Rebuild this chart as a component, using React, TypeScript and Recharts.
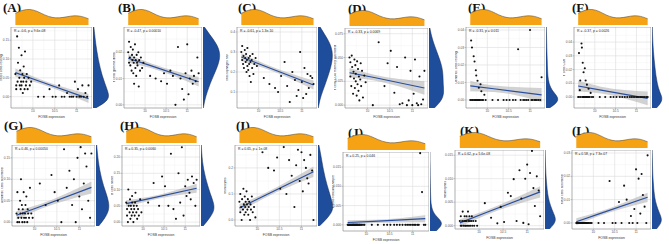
import React from 'react';
import { ComposedChart, AreaChart, Area, Line, Scatter, XAxis, YAxis, CartesianGrid, ReferenceArea } from 'recharts';

// shared FOSB expression (x) for all samples
const FOSB = [
  9.60, 9.62, 9.62, 9.64, 9.65, 9.66, 9.68, 9.69, 9.70, 9.71, 9.72, 9.73, 9.74, 9.74,
  9.76, 9.77, 9.78, 9.79, 9.80, 9.81, 9.82, 9.84, 9.85, 9.86, 9.88, 9.90, 9.93, 9.96,
  10.12, 10.25, 10.38, 10.45, 10.52, 10.60, 10.66, 10.72, 10.78, 10.84, 10.88, 10.92,
  10.96, 11.00, 11.03, 11.06, 11.10, 11.13, 11.16, 11.20, 11.24, 11.27,
];
const X_DOMAIN = [9.5, 11.35];
const X_TICKS = [10, 10.5, 11];
const X_MINOR = [9.75, 10.25, 10.75, 11.25];
const FIT_X = [9.6, 10.15, 11.27];

// marginal density of FOSB (top, orange)
const ORANGE_X = [9.60, 9.77, 9.93, 10.10, 10.27, 10.44, 10.60, 10.77, 10.94, 11.10, 11.27];
const ORANGE_D = [0.72, 0.92, 0.98, 0.85, 0.6, 0.45, 0.42, 0.5, 0.58, 0.55, 0.38];

// cell fractions (y)
const mastRestingY = [0.06,0.02,0.03,0.16,0.04,0.09,0.13,0.05,0.03,0.07,0.02,0.04,0.11,0.03,0.06,0.01,0.04,0.08,0.05,0.02,0.12,0.03,0.04,0.06,0.02,0.05,0.03,0.04,
  0.00,0.00,0.02,0.00,0.00,0.03,0.00,0.00,0.01,0.00,0.00,0.00,0.04,0.00,0.02,0.00,0.00,0.03,0.00,0.01,0.00,0.03];
const gammaDeltaY = [0.020,0.016,0.024,0.018,0.015,0.022,0.013,0.019,0.017,0.021,0.012,0.016,0.018,0.008,0.023,0.014,0.017,0.011,0.019,0.016,0.015,0.020,0.007,0.017,0.013,0.018,0.014,0.016,
  0.011,0.010,0.009,0.012,0.008,0.013,0.011,0.000,0.022,0.010,0.006,0.002,0.012,0.023,0.004,0.010,0.013,0.008,0.011,0.009,0.018,0.012];
const macroM0Y = [0.30,0.26,0.33,0.24,0.28,0.22,0.31,0.27,0.25,0.29,0.20,0.26,0.23,0.32,0.21,0.27,0.24,0.18,0.28,0.25,0.15,0.26,0.22,0.29,0.19,0.24,0.27,0.23,
  0.17,0.14,0.12,0.10,0.18,0.25,0.13,0.05,0.20,0.16,0.08,0.11,0.30,0.15,0.07,0.22,0.09,0.19,0.12,0.18,0.17,0.14];
const cd4ActY = [0.050,0.045,0.030,0.020,0.052,0.040,0.012,0.035,0.028,0.048,0.018,0.042,0.025,0.033,0.010,0.046,0.022,0.038,0.015,0.030,0.005,0.027,0.044,0.020,0.036,0.008,0.031,0.024,
  0.000,0.066,0.020,0.044,0.057,0.013,0.040,0.001,0.002,0.050,0.000,0.005,0.036,0.000,0.012,0.048,0.002,0.000,0.030,0.001,0.006,0.036];
const dcRestingY = [0.000,0.034,0.000,0.030,0.000,0.000,0.025,0.000,0.022,0.000,0.000,0.017,0.000,0.014,0.000,0.011,0.000,0.000,0.007,0.000,0.000,0.009,0.000,0.005,0.000,0.000,0.003,0.000,
  0.000,0.000,0.000,0.000,0.000,0.000,0.000,0.029,0.000,0.000,0.000,0.000,0.000,0.040,0.000,0.000,0.000,0.000,0.000,0.000,0.000,0.013];
const cd8Y = [0.000,0.032,0.000,0.005,0.012,0.000,0.039,0.036,0.000,0.025,0.000,0.018,0.000,0.000,0.021,0.000,0.012,0.000,0.000,0.009,0.000,0.000,0.006,0.000,0.000,0.003,0.000,0.000,
  0.000,0.000,0.000,0.000,0.000,0.000,0.000,0.000,0.000,0.000,0.000,0.000,0.000,0.000,0.000,0.000,0.000,0.000,0.000,0.000,0.000,0.000];
const dcActY = [0.02,0.00,0.07,0.01,0.03,0.00,0.05,0.02,0.10,0.01,0.04,0.00,0.03,0.02,0.07,0.01,0.00,0.02,0.04,0.01,0.06,0.00,0.03,0.02,0.01,0.08,0.02,0.01,
  0.09,0.04,0.11,0.07,0.05,0.00,0.17,0.08,0.12,0.04,0.10,0.00,0.15,0.06,0.175,0.03,0.09,0.16,0.13,0.05,0.01,0.16];
const bNaiveY = [0.06,0.02,0.04,0.00,0.10,0.05,0.03,0.07,0.01,0.05,0.04,0.02,0.08,0.06,0.03,0.00,0.05,0.04,0.02,0.06,0.09,0.03,0.05,0.01,0.04,0.02,0.07,0.03,
  0.06,0.12,0.05,0.14,0.11,0.05,0.21,0.04,0.01,0.15,0.06,0.23,0.02,0.11,0.08,0.13,0.09,0.07,0.14,0.12,0.05,0.13];
const monoY = [0.07,0.03,0.10,0.05,0.00,0.08,0.04,0.12,0.06,0.02,0.09,0.05,0.07,0.03,0.11,0.06,0.04,0.08,0.02,0.05,0.07,0.00,0.06,0.04,0.09,0.03,0.05,0.01,
  0.26,0.20,0.19,0.24,0.12,0.28,0.10,0.23,0.17,0.05,0.21,0.27,0.15,0.26,0.11,0.23,0.20,0.16,0.14,0.25,0.19,0.00];
const tfhY = [0,0,0,0,0,0,0,0,0,0,0,0,0,0,0,0,0,0,0,0,0,0,0,0,0,0,0,0,
  0,0,0,0,0,0,0,0,0,0,0,0,0,0,0,0,0,0,0.0186,0.0085,0,0];
const neutroY = [0.001,0.000,0.002,0.000,0.001,0.003,0.000,0.001,0.002,0.000,0.001,0.000,0.002,0.001,0.000,0.003,0.001,0.000,0.002,0.001,0.000,0.001,0.002,0.000,0.001,0.000,0.001,0.000,
  0.0048,0.0017,0.0005,0.0040,0.0008,0.0070,0.0063,0.0099,0.0010,0.0118,0.0058,0.0006,0.0100,0.0130,0.0003,0.0112,0.0159,0.0080,0.0042,0.0105,0.0075,0.0020];
const mastActY = [0,0,0,0,0,0,0,0,0,0,0,0,0,0,0,0,0,0,0,0,0,0,0,0,0,0,0,0,
  0.000,0.000,0.018,0.000,0.000,0.009,0.000,0.016,0.010,0.000,0.003,0.000,0.006,0.023,0.000,0.019,0.004,0.021,0.012,0.007,0.000,0.029];

// regression fit at FIT_X and half width of the 95% band
const fitA = [0.064, 0.041, -0.005]; const bandA = [0.011, 0.006, 0.012];
const fitB = [0.0177, 0.0148, 0.0088]; const bandB = [0.0016, 0.0009, 0.0018];
const fitC = [0.275, 0.229, 0.135]; const bandC = [0.02, 0.011, 0.022];
const fitD = [0.034, 0.029, 0.018]; const bandD = [0.005, 0.003, 0.007];
const fitE = [0.008, 0.0064, 0.0029]; const bandE = [0.003, 0.0018, 0.004];
const fitF = [0.008, 0.005, -0.001]; const bandF = [0.004, 0.0025, 0.005];
const fitG = [0.016, 0.037, 0.081]; const bandG = [0.01, 0.006, 0.014];
const fitH = [0.057, 0.072, 0.104]; const bandH = [0.01, 0.006, 0.014];
const fitI = [0.046, 0.092, 0.185]; const bandI = [0.015, 0.009, 0.02];
const fitJ = [0.0006, 0.0009, 0.0016]; const bandJ = [0.0006, 0.0004, 0.0009];
const fitK = [0.0006, 0.0028, 0.0072]; const bandK = [0.0008, 0.0005, 0.0012];
const fitL = [0.0005, 0.0040, 0.011]; const bandL = [0.0015, 0.0009, 0.002];

// right marginal densities (top -> bottom)
const densA = [0.05,0.1,0.15,0.22,0.3,0.4,0.52,0.68,0.85,0.95,0.15];
const densB = [0.08,0.4,0.75,0.95,0.95,0.8,0.6,0.4,0.24,0.1,0.02];
const densC = [0.12,0.4,0.68,0.82,0.82,0.72,0.58,0.42,0.25,0.1,0.02];
const densD = [0.05,0.14,0.28,0.45,0.62,0.75,0.8,0.8,0.85,0.75,0.3];
const densE = [0.02,0.03,0.04,0.05,0.07,0.08,0.1,0.16,0.38,0.85,0.2];
const densF = [0.02,0.03,0.05,0.08,0.12,0.17,0.22,0.3,0.42,0.66,0.25];
const densG = [0.04,0.08,0.13,0.2,0.3,0.42,0.58,0.72,0.75,0.52,0.15];
const densH = [0.02,0.04,0.08,0.15,0.25,0.38,0.52,0.7,0.78,0.5,0.12];
const densI = [0.05,0.14,0.22,0.3,0.4,0.52,0.66,0.8,0.88,0.55,0.08];
const densJ = [0.0,0.0,0.01,0.01,0.02,0.03,0.04,0.08,0.25,0.82,0.35];
const densK = [0.01,0.02,0.03,0.05,0.08,0.12,0.18,0.3,0.48,0.68,0.25];
const densL = [0.01,0.02,0.03,0.04,0.07,0.1,0.15,0.25,0.42,0.62,0.25];

const PANELS = [
  { tag: '(A)', ylab: 'Mast cells resting', annot: 'R = -0.6, p = 9.6e-08', y: mastRestingY, fit: fitA, band: bandA, dens: densA, yDomain: [-0.03, 0.185], yTicks: [0, 0.05, 0.1, 0.15], dec: 2, pos: { l: 11, t: 27, w: 81, h: 81 }, lab: { x: 3, y: 1 } },
  { tag: '(B)', ylab: 'T cells gamma delta', annot: 'R = -0.47, p = 0.00010', y: gammaDeltaY, fit: fitB, band: bandB, dens: densB, yDomain: [-0.0012, 0.0296], yTicks: [0, 0.01, 0.02], dec: 2, pos: { l: 124, t: 27, w: 78, h: 81 }, lab: { x: 118, y: 1 } },
  { tag: '(C)', ylab: 'Macrophages M0', annot: 'R = -0.61, p = 1.3e-10', y: macroM0Y, fit: fitC, band: bandC, dens: densC, yDomain: [0.02, 0.425], yTicks: [0.1, 0.2, 0.3, 0.4], dec: 1, pos: { l: 237, t: 27, w: 80, h: 81 }, lab: { x: 238, y: 1 } },
  { tag: '(D)', ylab: 'T cells CD4 memory activated', annot: 'R = -0.33, p = 0.0069', y: cd4ActY, fit: fitD, band: bandD, dens: densD, yDomain: [-0.003, 0.081], yTicks: [0, 0.025, 0.05, 0.075], dec: 3, pos: { l: 345, t: 28, w: 83, h: 80 }, lab: { x: 348, y: 2 } },
  { tag: '(E)', ylab: 'Dendritic cells resting', annot: 'R = -0.31, p = 0.011', y: dcRestingY, fit: fitE, band: bandE, dens: densE, yDomain: [-0.0046, 0.0417], yTicks: [0, 0.01, 0.02, 0.03, 0.04], dec: 2, pos: { l: 466, t: 27, w: 79, h: 81 }, lab: { x: 468, y: 1 } },
  { tag: '(F)', ylab: 'T cells CD8', annot: 'R = -0.37, p = 0.0026', y: cd8Y, fit: fitF, band: bandF, dens: densF, yDomain: [-0.008, 0.051], yTicks: [0, 0.01, 0.02, 0.03, 0.04], dec: 2, pos: { l: 574, t: 27, w: 77, h: 81 }, lab: { x: 572, y: 1 } },
  { tag: '(G)', ylab: 'Dendritic cells activated', annot: 'R = 0.46, p = 0.00050', y: dcActY, fit: fitG, band: bandG, dens: densG, yDomain: [-0.009, 0.18], yTicks: [0, 0.05, 0.1, 0.15], dec: 2, pos: { l: 12, t: 145, w: 83, h: 81 }, lab: { x: 4, y: 119 } },
  { tag: '(H)', ylab: 'B cells naive', annot: 'R = 0.35, p = 0.0060', y: bNaiveY, fit: fitH, band: bandH, dens: densH, yDomain: [-0.012, 0.237], yTicks: [0, 0.05, 0.1, 0.15, 0.2], dec: 2, pos: { l: 122, t: 145, w: 78, h: 81 }, lab: { x: 120, y: 119 } },
  { tag: '(I)', ylab: 'Monocytes', annot: 'R = 0.65, p = 1e-08', y: monoY, fit: fitI, band: bandI, dens: densI, yDomain: [-0.023, 0.288], yTicks: [0, 0.1, 0.2], dec: 1, pos: { l: 235, t: 145, w: 82, h: 81 }, lab: { x: 236, y: 119 } },
  { tag: '(J)', ylab: 'T cells follicular helper', annot: 'R = 0.25, p = 0.046', y: tfhY, fit: fitJ, band: bandJ, dens: densJ, yDomain: [-0.0016, 0.0189], yTicks: [0, 0.005, 0.01, 0.015], dec: 3, pos: { l: 343, t: 152, w: 86, h: 79 }, lab: { x: 348, y: 126 } },
  { tag: '(K)', ylab: 'Neutrophils', annot: 'R = 0.62, p = 5.6e-08', y: neutroY, fit: fitK, band: bandK, dens: densK, yDomain: [-0.0007, 0.0161], yTicks: [0, 0.005, 0.01, 0.015], dec: 3, pos: { l: 455, t: 150, w: 89, h: 79 }, lab: { x: 460, y: 124 } },
  { tag: '(L)', ylab: 'Mast cells activated', annot: 'R = 0.58, p = 7.3e-07', y: mastActY, fit: fitL, band: bandL, dens: densL, yDomain: [-0.0026, 0.0313], yTicks: [0, 0.01, 0.02, 0.03], dec: 2, pos: { l: 572, t: 150, w: 79, h: 79 }, lab: { x: 572, y: 124 } },
];

const ORANGE = '#f5a314';
const BLUE = '#1e4d9b';
const LINE_BLUE = '#2a4f9e';
const Y_AXIS_W = 11;
const X_AXIS_H = 11;
const M0 = { top: 0, right: 0, bottom: 0, left: 0 };

const Dot = (props: any) => <circle cx={props.cx} cy={props.cy} r={1.05} fill="#111" />;

function Panel({ p }: { p: any }) {
  const { pos } = p;
  const pts = FOSB.map((x, i) => ({ x, y: p.y[i] }));
  const fitRows = FIT_X.map((x, i) => ({ x, fit: p.fit[i], band: [p.fit[i] - p.band[i], p.fit[i] + p.band[i]] }));
  const step = p.yTicks[1] - p.yTicks[0];
  const minorY: number[] = [];
  for (let k = -1; k < p.yTicks.length; k++) {
    const v = p.yTicks[0] + step * (k + 0.5);
    if (v > p.yDomain[0] && v < p.yDomain[1]) minorY.push(v);
  }
  const orangeRows = ORANGE_X.map((x, i) => ({ x, d: ORANGE_D[i] }));
  const densRows = p.dens.map((d: number, i: number) => ({ i, d }));
  return (
    <>
      <div style={{ position: 'absolute', left: p.lab.x, top: p.lab.y, fontFamily: '"Liberation Serif", serif', fontWeight: 'bold', fontSize: 13, lineHeight: '13px', color: '#111', whiteSpace: 'nowrap' }}>{p.tag}</div>
      <div style={{ position: 'absolute', left: pos.l, top: pos.t - 20 }}>
        <AreaChart width={pos.w} height={18} data={orangeRows} margin={M0}>
          <XAxis type="number" dataKey="x" domain={X_DOMAIN} hide />
          <YAxis type="number" domain={[0, 1.1]} hide />
          <Area type="basis" dataKey="d" fill={ORANGE} fillOpacity={1} stroke="#3a3a3a" strokeWidth={0.5} isAnimationActive={false} />
        </AreaChart>
      </div>
      <div style={{ position: 'absolute', left: pos.l + pos.w + 19, top: pos.t, width: pos.h, height: 18, transform: 'rotate(90deg)', transformOrigin: '0 0' }}>
        <AreaChart width={pos.h} height={18} data={densRows} margin={M0}>
          <XAxis dataKey="i" hide />
          <YAxis type="number" domain={[0, 1.02]} hide />
          <Area type="basis" dataKey="d" fill={BLUE} fillOpacity={1} stroke="#1b2b4f" strokeWidth={0.5} isAnimationActive={false} />
        </AreaChart>
      </div>
      <div style={{ position: 'absolute', left: pos.l - Y_AXIS_W, top: pos.t }}>
        <ComposedChart width={pos.w + Y_AXIS_W} height={pos.h + X_AXIS_H} data={fitRows} margin={M0}>
          <CartesianGrid horizontalValues={minorY} verticalValues={X_MINOR} stroke="#f1f1f1" strokeWidth={0.4} />
          <CartesianGrid horizontalValues={p.yTicks} verticalValues={X_TICKS} stroke="#dcdcdc" strokeWidth={0.6} />
          <XAxis type="number" dataKey="x" domain={X_DOMAIN} ticks={X_TICKS} allowDataOverflow height={X_AXIS_H} interval={0}
            tick={{ fontSize: 3.2, fill: '#555', fontFamily: '"Liberation Sans", sans-serif' }} tickSize={1.5} tickMargin={0.5}
            tickLine={{ stroke: '#777', strokeWidth: 0.4 }} axisLine={false} tickFormatter={(v: number) => String(v)}
            label={{ value: 'FOSB expression', position: 'insideBottom', offset: 1, fontSize: 3.4, fill: '#333', fontFamily: '"Liberation Sans", sans-serif' }} />
          <YAxis type="number" domain={p.yDomain} ticks={p.yTicks} allowDataOverflow width={Y_AXIS_W} interval={0}
            tick={{ fontSize: 3.2, fill: '#555', fontFamily: '"Liberation Sans", sans-serif' }} tickSize={1.5} tickMargin={0.5}
            tickLine={{ stroke: '#777', strokeWidth: 0.4 }} axisLine={false} tickFormatter={(v: number) => v.toFixed(p.dec)}
            label={{ value: p.ylab, angle: -90, position: 'insideLeft', offset: 1, fontSize: 3.4, fill: '#333', fontFamily: '"Liberation Sans", sans-serif', style: { textAnchor: 'middle' } }} />
          <Area type="monotone" dataKey="band" fill="#b4b4b4" fillOpacity={0.6} stroke="none" isAnimationActive={false} />
          <Line type="linear" dataKey="fit" stroke={LINE_BLUE} strokeWidth={1.2} dot={false} isAnimationActive={false} />
          <Scatter data={pts} dataKey="y" shape={Dot} isAnimationActive={false} />
          <ReferenceArea x1={X_DOMAIN[0]} x2={X_DOMAIN[1]} y1={p.yDomain[0]} y2={p.yDomain[1]} fill="none" fillOpacity={0}
            stroke="#8c8c8c" strokeWidth={0.7}
            label={{ value: p.annot, position: 'insideTopLeft', offset: 3, fontSize: 3.4, fill: '#222', fontFamily: '"Liberation Sans", sans-serif' }} />
        </ComposedChart>
      </div>
    </>
  );
}

export default function App() {
  return (
    <div style={{ position: 'absolute', left: 0, top: 0, width: 669, height: 244, background: '#fff', overflow: 'hidden' }}>
      {PANELS.map((p) => <Panel key={p.tag} p={p} />)}
    </div>
  );
}
